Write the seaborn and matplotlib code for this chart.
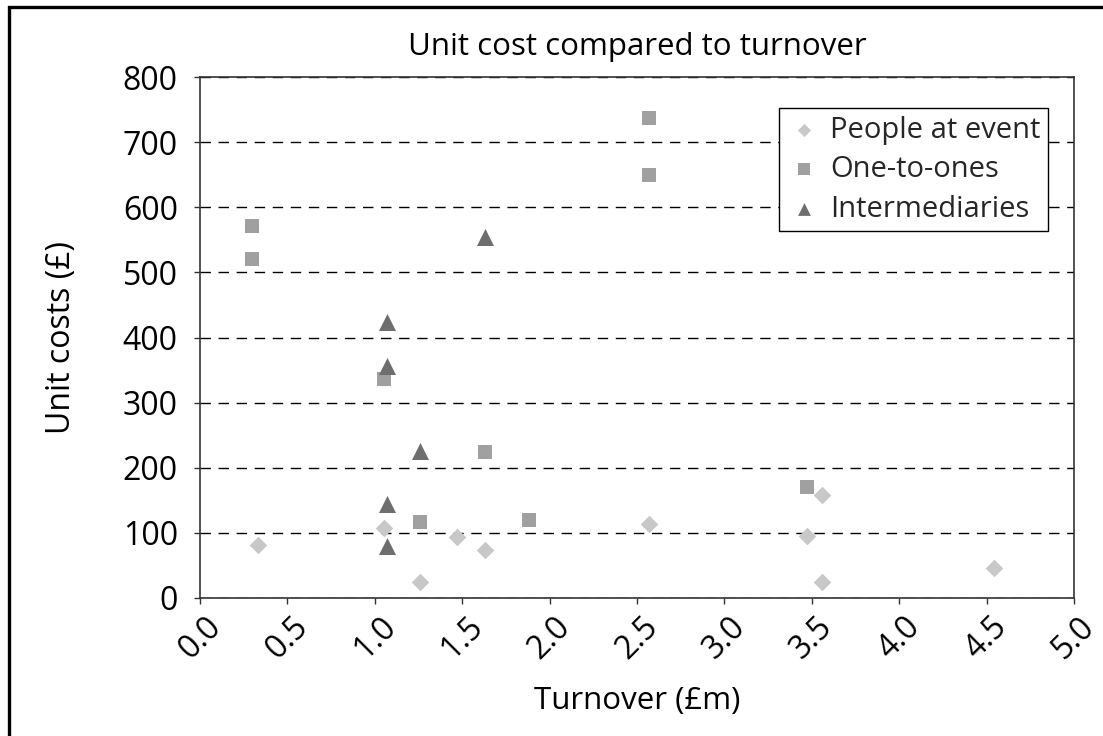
import numpy as np
import pandas as pd
import seaborn as sns
import matplotlib
matplotlib.use('Agg')
import matplotlib.pyplot as plt
from matplotlib.patches import Rectangle

# values
people_x = [0.33, 1.05, 1.26, 1.47, 1.63, 2.57, 3.47, 3.56, 3.56, 4.54]
people_y = [82, 108, 24, 94, 74, 114, 95, 158, 24, 46]

ones_x = [0.30, 0.30, 1.05, 1.26, 1.63, 1.88, 2.57, 2.57, 3.47]
ones_y = [571, 520, 337, 117, 224, 120, 737, 650, 170]

inter_x = [1.07, 1.07, 1.07, 1.07, 1.26, 1.63]
inter_y = [424, 357, 144, 80, 226, 555]

series_names = ['People at event', 'One-to-ones', 'Intermediaries']
series_colors = ['#c8c8c8', '#a0a0a0', '#6e6e6e']
series_markers = ['D', 's', '^']
series_sizes = [80, 115, 150]

x_ticks = [0.0, 0.5, 1.0, 1.5, 2.0, 2.5, 3.0, 3.5, 4.0, 4.5, 5.0]
y_ticks = [0, 100, 200, 300, 400, 500, 600, 700, 800]

df = pd.concat([
    pd.DataFrame({'turnover': people_x, 'unit_cost': people_y, 'series': series_names[0]}),
    pd.DataFrame({'turnover': ones_x, 'unit_cost': ones_y, 'series': series_names[1]}),
    pd.DataFrame({'turnover': inter_x, 'unit_cost': inter_y, 'series': series_names[2]}),
], ignore_index=True)

sns.set_theme(style='white')
plt.rcParams['font.family'] = ['Open Sans', 'DejaVu Sans']

fig = plt.figure(figsize=(11.03, 7.36), dpi=100)
ax = fig.add_axes([200 / 1103, 1 - 598 / 736, 874 / 1103, 521 / 736])

for name, col, mk, sz in zip(series_names, series_colors, series_markers, series_sizes):
    sub = df[df.series == name]
    sns.scatterplot(data=sub, x='turnover', y='unit_cost', color=col, marker=mk,
                    s=sz, linewidth=0, label=name, ax=ax, zorder=3)

ax.set_xlim(0, 5)
ax.set_ylim(0, 800)
ax.set_xticks(x_ticks)
ax.set_xticklabels(['%.1f' % t for t in x_ticks])
ax.set_yticks(y_ticks)
ax.set_yticklabels([str(t) for t in y_ticks])

ax.set_axisbelow(True)
ax.grid(axis='y', color='black', lw=1, ls=(0, (7.5, 5.5)))
ax.grid(axis='x', visible=False)

for sp in ax.spines.values():
    sp.set_visible(True)
    sp.set_color('#333333')
    sp.set_linewidth(1.2)

ax.tick_params(axis='both', which='major', bottom=True, left=True, direction='out',
               length=4, width=1, color='#333333', labelsize=23, labelcolor='black')
ax.tick_params(axis='y', pad=12)
ax.tick_params(axis='x', pad=5)
plt.setp(ax.get_xticklabels(), rotation=45, ha='center', va='top')

ax.set_title('Unit cost compared to turnover', fontsize=22.5, pad=16, color='black')
ax.set_xlabel('Turnover (£m)', fontsize=22.5, color='black')
ax.set_ylabel('Unit costs (£)', fontsize=23, color='black')
ax.xaxis.set_label_coords(0.5, -0.169)
ax.yaxis.set_label_coords(-0.14, 0.5)

leg = ax.legend(loc='upper right', bbox_to_anchor=(0.97, 0.94), frameon=True,
                fancybox=False, edgecolor='black', fontsize=21, handletextpad=0.3,
                borderpad=0.25, labelspacing=0.36, markerscale=0.75, framealpha=1,
                handlelength=1.2, borderaxespad=0)
leg.get_frame().set_linewidth(1.0)

# outer frame of the picture (only left and top are inside the image)
fig.patches.append(Rectangle((9 / 1103, -0.5), 2, 1 - 7 / 736 + 0.5, transform=fig.transFigure,
                             fill=False, lw=2.4, edgecolor='black', clip_on=False))

fig.savefig('out.png', dpi=100)
